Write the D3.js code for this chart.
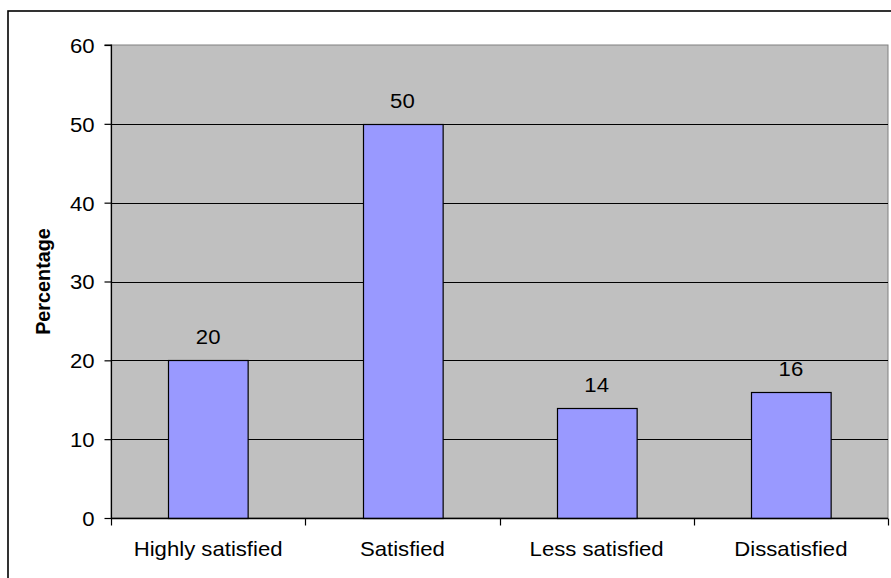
<!DOCTYPE html>
<html><head><meta charset="utf-8">
<script src="https://cdn.jsdelivr.net/npm/d3@7"></script>
<style>body{margin:0;background:#fff}svg{display:block}text{font-family:"Liberation Sans",Arial,sans-serif;fill:#000}</style>
</head><body>
<script>
const categories = ["Highly satisfied", "Satisfied", "Less satisfied", "Dissatisfied"];
const values = [20, 50, 14, 16];
const yTicks = [0, 10, 20, 30, 40, 50, 60];
const yTitle = "Percentage";

const W = 891, H = 578;
const L = 111, R = 888, T = 45, B = 518;
const sx = 1.08, fs = 20.5;

const svg = d3.select("body").append("svg").attr("width", W).attr("height", H);
svg.append("rect").attr("x", 8).attr("y", 11).attr("width", 900).attr("height", 600)
  .attr("fill", "#fff").attr("stroke", "#000").attr("stroke-width", 1.6);

const x = d3.scaleBand().domain(categories).range([L, R]).paddingInner(0.59).paddingOuter(0.295);
const xb = d3.scaleBand().domain(categories).range([L, R]);
const y = d3.scaleLinear().domain([0, 60]).range([B, T]);

svg.append("rect").attr("x", L).attr("y", T).attr("width", R - L).attr("height", B - T)
  .attr("fill", "#C0C0C0").attr("stroke", "#808080").attr("stroke-width", 1);

// gridlines
svg.append("g").selectAll("line").data(yTicks.filter(d => d > 0 && d < 60)).join("line")
  .attr("x1", L).attr("x2", R).attr("y1", d => Math.round(y(d)) + 0.5).attr("y2", d => Math.round(y(d)) + 0.5)
  .attr("stroke", "#000").attr("stroke-width", 1.2);

// bars
svg.append("g").selectAll("rect").data(values).join("rect")
  .attr("x", (d, i) => Math.round(x(categories[i])) + 0.5)
  .attr("y", d => Math.round(y(d)) + 0.5)
  .attr("width", x.bandwidth())
  .attr("height", d => B - Math.round(y(d)))
  .attr("fill", "#9999FF").attr("stroke", "#000").attr("stroke-width", 1.2);

// value labels
svg.append("g").selectAll("text").data(values).join("text")
  .attr("transform", (d, i) => `translate(${x(categories[i]) + x.bandwidth() / 2},${y(d) - 16}) scale(${sx},1)`)
  .attr("text-anchor", "middle").attr("font-size", fs).text(d => d);

// y axis
const yAxis = d3.axisLeft(y).tickValues(yTicks).tickSize(7).tickPadding(10).tickFormat(d3.format("d"));
const gy = svg.append("g").attr("transform", `translate(${L + 0.5},0)`).call(yAxis);
gy.select(".domain").attr("stroke", "#000").attr("stroke-width", 1.2).attr("d", `M-7,${T}H0V${B}`);
gy.selectAll(".tick line").attr("stroke", "#000").attr("stroke-width", 1.2);
gy.selectAll(".tick text").attr("font-size", fs).attr("font-family", "Liberation Sans, Arial, sans-serif")
  .attr("fill", "#000").attr("dy", "0.36em")
  .attr("transform", function() { const xx = +d3.select(this).attr("x"); return `translate(${xx * (1 - sx)},0) scale(${sx},1)`; });

// x axis
const gx = svg.append("g").attr("transform", `translate(0,${B + 0.5})`);
gx.append("line").attr("x1", L).attr("x2", R).attr("stroke", "#000").attr("stroke-width", 1.6);
const bounds = categories.map(c => xb(c)).concat([R]);
gx.selectAll("line.tk").data(bounds).join("line").attr("class", "tk")
  .attr("x1", d => Math.round(d) + 0.5).attr("x2", d => Math.round(d) + 0.5).attr("y1", 0).attr("y2", 7)
  .attr("stroke", "#000").attr("stroke-width", 1.2);
gx.selectAll("text").data(categories).join("text")
  .attr("transform", d => `translate(${xb(d) + xb.bandwidth() / 2},37) scale(${sx},1)`)
  .attr("text-anchor", "middle").attr("font-size", fs).text(d => d);

// y title
svg.append("text").attr("transform", `translate(50,${(T + B) / 2}) rotate(-90)`)
  .attr("text-anchor", "middle").attr("font-size", 19.8).attr("font-weight", "bold").text(yTitle);
</script>
</body></html>
